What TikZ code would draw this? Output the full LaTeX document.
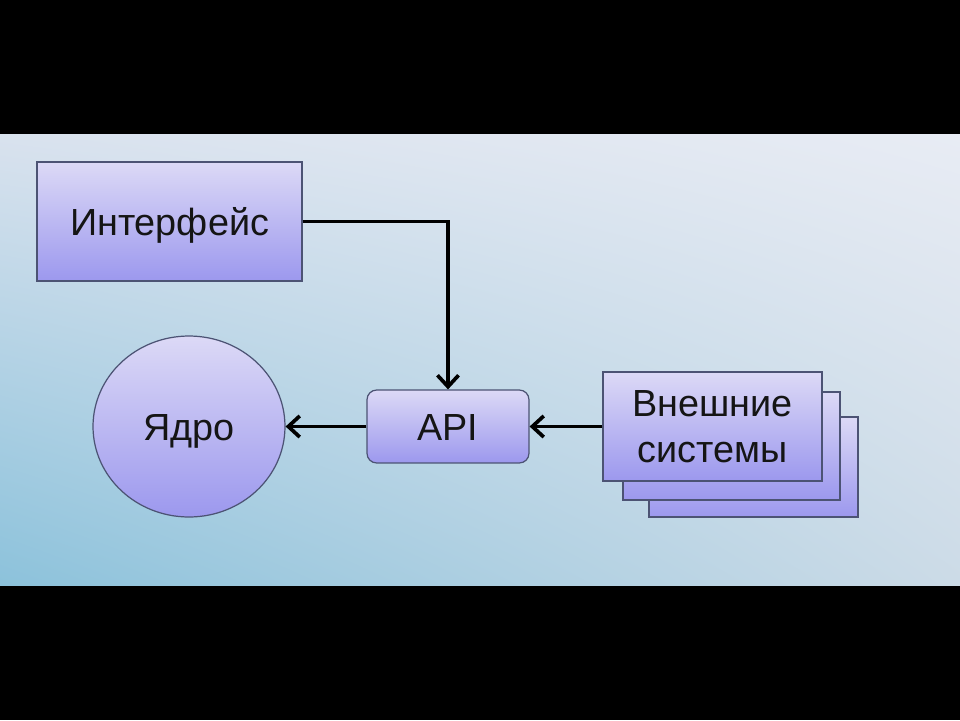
\documentclass[tikz,border=0pt]{standalone}
\usepackage{fontspec}
\setmainfont{Liberation Sans}
\usetikzlibrary{arrows.meta,shapes.geometric,shadings}
\definecolor{BoxTop}{HTML}{DCD9F6}
\definecolor{BoxBot}{HTML}{9C98EE}
\definecolor{BoxLine}{HTML}{4C5374}
\definecolor{TextClr}{HTML}{151515}
\definecolor{BgUL}{HTML}{D9E2EE}
\definecolor{BgUR}{HTML}{E8ECF4}
\definecolor{BgLL}{HTML}{8CC2DB}
\definecolor{BgLR}{HTML}{CCDBE7}

\begin{document}
\begin{tikzpicture}[x=0.02cm,y=-0.02cm]
\tikzset{
  blk/.style={draw=BoxLine,line width=0.7pt,top color=BoxTop,bottom color=BoxBot,
    text=TextClr,font=\fontsize{21.5}{26}\selectfont,inner sep=0pt},
  capmid/.style={text height=15.4pt,text depth=0pt},
  lnk/.style={line width=2.1pt,-{Straight Barb[length=6.5pt,width=12pt]}}
}

\useasboundingbox (0,0) rectangle (960,720);
\fill[black] (0,0) rectangle (960,720);
\shade[upper left=BgUL,upper right=BgUR,lower left=BgLL,lower right=BgLR] (0,134) rectangle (960,585);

\node[blk,capmid,minimum width=5.3cm,minimum height=2.38cm] (iface) at (169.5,221.5) {Интерфейс};
\node[blk,capmid,ellipse,minimum width=3.84cm,minimum height=3.62cm] (core) at (189,426.5) {Ядро};
\node[blk,capmid,rounded corners=5.5pt,minimum width=3.24cm,minimum height=1.46cm] (api) at (448,426.5) {API};

\node[blk,minimum width=4.18cm,minimum height=2.0cm] (ext3) at (753.5,467) {};
\node[blk,minimum width=4.34cm,minimum height=2.16cm] (ext2) at (731.5,446) {};
\node[blk,minimum width=4.38cm,minimum height=2.18cm,align=center] (ext) at (712.5,426.5) {Внешние\\системы};

\draw[lnk] (iface.east) -| (api.north);
\draw[lnk] (api.west) -- (core.east);
\draw[lnk] (ext.west) -- (api.east);

\end{tikzpicture}
\end{document}
